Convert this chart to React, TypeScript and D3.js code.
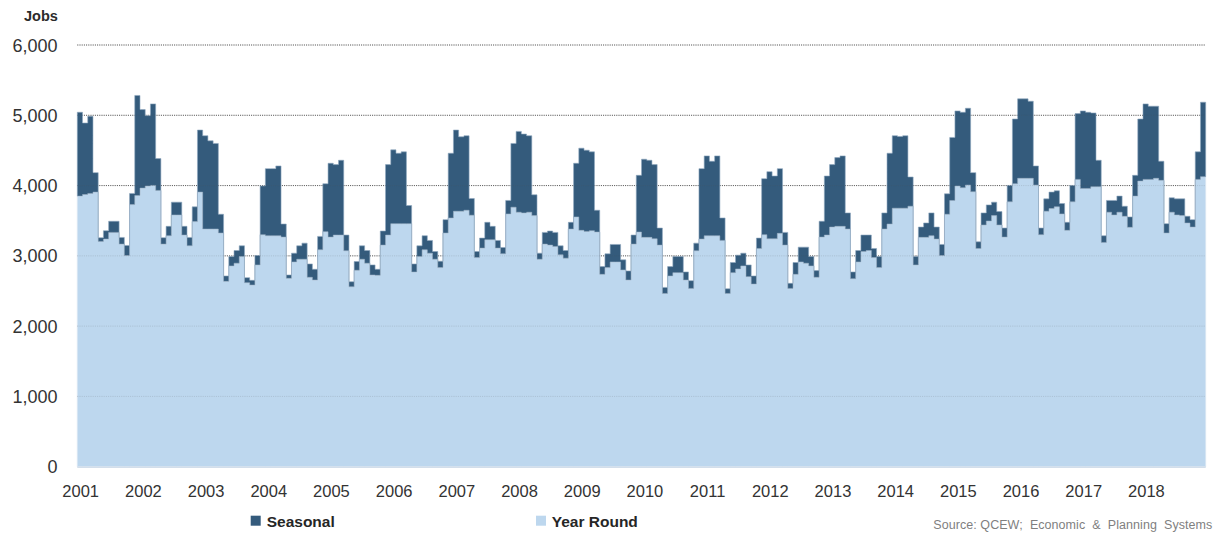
import React from "react";
import * as d3 from "d3";

// Monthly values, Jan 2001 – Dec 2018 (one row per year)
const yearRound: number[] = [
  3850, 3873, 3888, 3907, 3205, 3239, 3334, 3334, 3167, 3005, 3730, 3859,
  3964, 3993, 4002, 3931, 3167, 3286, 3582, 3582, 3296, 3143, 3487, 3907,
  3382, 3382, 3382, 3325, 2637, 2857, 2895, 2990, 2618, 2585, 2871, 3301,
  3286, 3286, 3286, 3267, 2680, 2914, 2952, 2952, 2695, 2656, 3086, 3344,
  3267, 3296, 3296, 3072, 2561, 2795, 2952, 2895, 2728, 2723, 3153, 3296,
  3458, 3458, 3458, 3458, 2771, 2990, 3086, 3038, 2952, 2833, 3325, 3539,
  3635, 3635, 3649, 3578, 2976, 3110, 3229, 3229, 3110, 3029, 3597, 3692,
  3621, 3611, 3621, 3573, 2952, 3167, 3153, 3134, 3014, 2967, 3382, 3554,
  3363, 3348, 3358, 3339, 2737, 2833, 2914, 2914, 2800, 2656, 3167, 3339,
  3263, 3263, 3243, 3153, 2465, 2714, 2761, 2761, 2656, 2537, 3072, 3239,
  3286, 3286, 3286, 3220, 2465, 2761, 2814, 2857, 2704, 2599, 3105, 3301,
  3243, 3243, 3320, 3153, 2537, 2737, 2914, 2895, 2857, 2695, 3267, 3296,
  3410, 3420, 3420, 3382, 2675, 2914, 3062, 3076, 2976, 2833, 3382, 3453,
  3678, 3678, 3678, 3706, 2871, 3263, 3263, 3286, 3239, 3005, 3592, 3788,
  3993, 3969, 4007, 3912, 3105, 3439, 3496, 3573, 3439, 3267, 3768, 4026,
  4103, 4103, 4103, 4007, 3301, 3635, 3673, 3697, 3597, 3363, 3768, 4088,
  3959, 3959, 3983, 3983, 3191, 3621, 3582, 3621, 3563, 3406, 3850, 4064,
  4088, 4088, 4103, 4074, 3325, 3621, 3582, 3573, 3468, 3410, 4088, 4127,
];

const seasonal: number[] = [
  1193, 1017, 1098, 277, 53, 119, 158, 158, 95, 143, 158, 1423,
  1117, 1002, 1160, 453, 91, 134, 182, 182, 124, 119, 210, 883,
  1327, 1255, 1217, 267, 77, 133, 181, 153, 72, 67, 134, 694,
  955, 955, 993, 186, 48, 124, 191, 229, 190, 153, 191, 682,
  1050, 1002, 1064, 224, 71, 124, 191, 181, 143, 86, 200, 1002,
  1050, 1002, 1022, 258, 114, 153, 200, 181, 110, 91, 190, 921,
  1155, 1059, 1060, 238, 86, 143, 248, 191, 109, 90, 191, 907,
  1150, 1122, 1088, 296, 86, 167, 200, 200, 129, 109, 95, 763,
  1169, 1155, 1122, 310, 110, 196, 248, 248, 143, 129, 129, 807,
  1112, 1097, 1055, 243, 86, 133, 229, 229, 115, 110, 109, 1002,
  1136, 1060, 1136, 319, 67, 144, 196, 181, 167, 115, 148, 797,
  955, 893, 921, 181, 72, 168, 210, 229, 133, 95, 225, 840,
  888, 978, 1002, 229, 96, 162, 234, 220, 129, 157, 229, 1007,
  1031, 1021, 1031, 416, 119, 147, 205, 325, 171, 157, 291, 897,
  1069, 1074, 1093, 272, 95, 172, 229, 191, 191, 129, 234, 921,
  1131, 1131, 1097, 272, 95, 176, 234, 229, 148, 114, 234, 936,
  1103, 1084, 1050, 377, 95, 167, 206, 229, 143, 148, 296, 883,
  1074, 1041, 1026, 272, 133, 205, 229, 238, 95, 105, 392, 1059,
];

const years: string[] = [
  "2001", "2002", "2003", "2004", "2005", "2006", "2007", "2008", "2009",
  "2010", "2011", "2012", "2013", "2014", "2015", "2016", "2017", "2018",
];

const yTicks: number[] = [0, 1000, 2000, 3000, 4000, 5000, 6000];

const seriesNames = { seasonal: "Seasonal", yearRound: "Year Round" };
const sourceText = "Source: QCEW;  Economic  &  Planning  Systems";

const LIGHT = "#bdd7ee";
const DARK = "#345b7c";

export default function App() {
  const W = 1222;
  const H = 533;
  const n = yearRound.length;
  const x = d3.scaleLinear().domain([0, n]).range([77.3, 1205.7]);
  const y = d3.scaleLinear().domain([0, 6000]).range([466.7, 45]);

  const rows = yearRound.map((v, i) => ({ i, yearRound: v, seasonal: seasonal[i] }));
  // repeat last row to close final step
  const rowsExt = [...rows, { ...rows[n - 1], i: n }];
  const stacked = d3.stack<any>().keys(["yearRound", "seasonal"])(rowsExt);

  const area = d3
    .area<any>()
    .x((d) => x(d.data.i))
    .y0((d) => y(d[0]))
    .y1((d) => y(d[1]))
    .curve(d3.curveStepAfter);

  const fmt = d3.format(",");
  const font = "'Liberation Sans', Arial, sans-serif";

  return (
    <svg
      width={W}
      height={H}
      style={{ position: "absolute", left: 0, top: 0, background: "#fff" }}
      fontFamily={font}
    >
      {/* gridlines behind */}
      {yTicks.filter((t) => t > 0).map((t) => (
        <line
          key={"g" + t}
          x1={x(0)}
          x2={x(n)}
          y1={y(t)}
          y2={y(t)}
          stroke="#555"
          strokeWidth={1}
          strokeDasharray="1 1.2"
        />
      ))}
      <path d={area(stacked[0]) || ""} fill={LIGHT} stroke="#d9e6f3" strokeWidth={0.8} />
      <path d={area(stacked[1]) || ""} fill={DARK} stroke="#8ea7bf" strokeWidth={0.6} />
      {/* faint gridlines over area */}
      {yTicks.filter((t) => t > 0).map((t) => (
        <line
          key={"go" + t}
          x1={x(0)}
          x2={x(n)}
          y1={y(t)}
          y2={y(t)}
          stroke="#555"
          strokeOpacity={0.18}
          strokeWidth={1}
          strokeDasharray="1 1.2"
        />
      ))}
      {/* baseline */}
      <line x1={x(0)} x2={x(n)} y1={y(0) + 0.5} y2={y(0) + 0.5} stroke="#d3deea" strokeWidth={1.5} />

      {/* y labels */}
      {yTicks.map((t) => (
        <text
          key={"y" + t}
          x={57.5}
          y={y(t) + 6.5}
          textAnchor="end"
          fontSize={18}
          fill="#333"
        >
          {fmt(t)}
        </text>
      ))}
      <text x={24} y={20.5} fontSize={14.5} fontWeight="bold" fill="#2b2b2b">
        Jobs
      </text>

      {/* x labels */}
      {years.map((yr, k) => (
        <text
          key={yr}
          x={x(k * 12 + 0.5) + 0.8}
          y={497}
          textAnchor="middle"
          fontSize={16.5}
          fill="#333"
        >
          {yr}
        </text>
      ))}

      {/* legend */}
      <rect x={250.7} y={515.7} width={10} height={10} fill={DARK} />
      <text x={266.7} y={526.5} fontSize={15.5} fontWeight="bold" fill="#262626">
        {seriesNames.seasonal}
      </text>
      <rect x={536} y={515.7} width={10} height={10} fill={LIGHT} />
      <text x={551.7} y={526.5} fontSize={15.5} fontWeight="bold" fill="#262626">
        {seriesNames.yearRound}
      </text>

      <text
        x={933.3}
        y={529.3}
        fontSize={12.5}
        fill="#7f7f7f"
        textLength={279}
        lengthAdjust="spacing"
        style={{ whiteSpace: "pre" }}
      >
        {sourceText}
      </text>
    </svg>
  );
}
